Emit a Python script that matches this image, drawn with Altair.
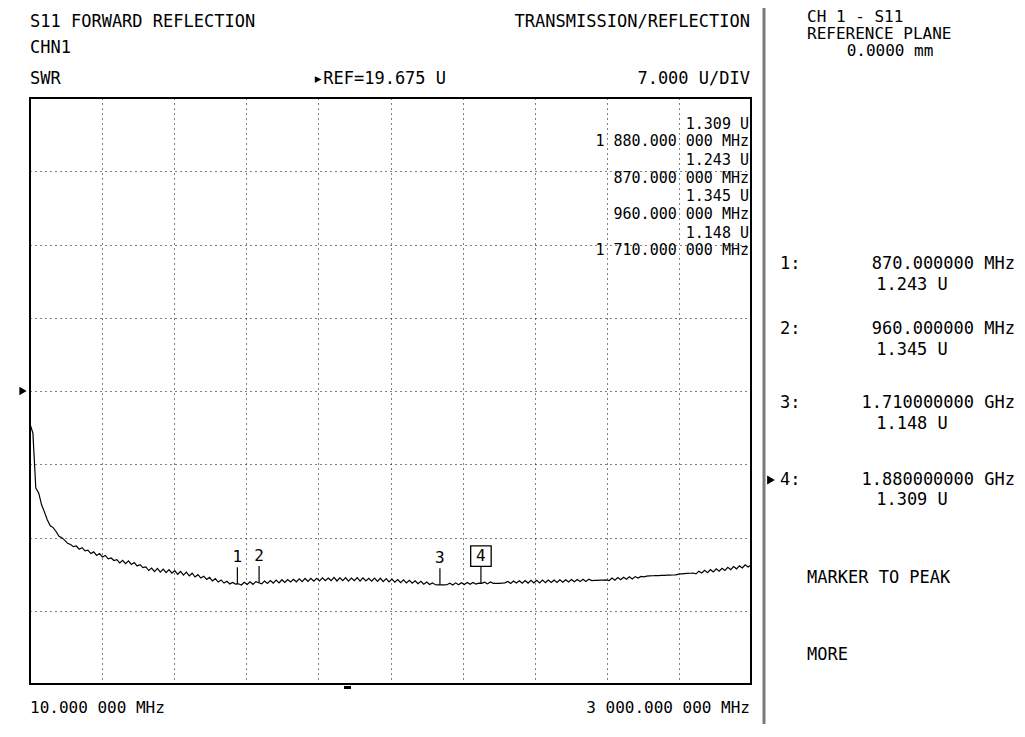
import altair as alt
import pandas as pd

FONT = "DejaVu Sans Mono"

# Sweep settings (instrument)
START_MHZ = 10.0
STOP_MHZ = 3000.0
REF_U = 19.675
U_PER_DIV = 7.0
N_XDIV = 10
N_YDIV = 8

# SWR trace (linear sweep, 250 points)
SWR = [
    16.52, 15.66, 10.41, 9.93, 8.80, 8.10, 7.35, 6.80, 6.62, 6.25,
    5.80, 5.66, 5.40, 5.12, 5.00, 4.80, 4.86, 4.56, 4.70, 4.40,
    4.46, 4.14, 4.30, 3.96, 4.14, 3.82, 3.96, 3.64, 3.72, 3.48,
    3.56, 3.24, 3.50, 3.18, 3.44, 3.10, 3.28, 2.96, 3.08, 2.80,
    2.86, 2.52, 2.76, 2.42, 2.72, 2.36, 2.66, 2.32, 2.60, 2.26,
    2.50, 2.16, 2.44, 2.08, 2.36, 2.00, 2.26, 1.90, 2.12, 1.80,
    1.98, 1.66, 1.86, 1.52, 1.74, 1.42, 1.62, 1.32, 1.50, 1.24,
    1.38, 1.22, 1.25, 1.14, 1.40, 1.18, 1.44, 1.20, 1.46, 1.345,
    1.24, 1.52, 1.28, 1.56, 1.32, 1.60, 1.34, 1.64, 1.38, 1.66,
    1.42, 1.68, 1.44, 1.72, 1.46, 1.76, 1.48, 1.78, 1.50, 1.78,
    1.52, 1.82, 1.54, 1.80, 1.56, 1.86, 1.52, 1.82, 1.56, 1.84,
    1.50, 1.80, 1.54, 1.84, 1.50, 1.82, 1.52, 1.78, 1.50, 1.80,
    1.48, 1.78, 1.46, 1.74, 1.44, 1.70, 1.40, 1.66, 1.36, 1.62,
    1.34, 1.58, 1.30, 1.54, 1.26, 1.48, 1.22, 1.42, 1.18, 1.34,
    1.16, 1.15, 1.148, 1.15, 1.16, 1.30, 1.14, 1.34, 1.16, 1.36,
    1.18, 1.38, 1.20, 1.38, 1.22, 1.309, 1.30, 1.40, 1.24, 1.42,
    1.30, 1.30, 1.30, 1.32, 1.34, 1.48, 1.28, 1.52, 1.32, 1.54,
    1.30, 1.56, 1.32, 1.58, 1.34, 1.58, 1.34, 1.60, 1.36, 1.60,
    1.38, 1.62, 1.38, 1.64, 1.40, 1.64, 1.42, 1.66, 1.44, 1.66,
    1.46, 1.68, 1.48, 1.70, 1.56, 1.58, 1.58, 1.60, 1.60, 1.62,
    1.56, 1.80, 1.60, 1.84, 1.64, 1.88, 1.68, 1.92, 1.72, 1.94,
    1.80, 1.96, 1.92, 1.98, 2.00, 2.02, 2.03, 2.04, 2.05, 2.06,
    2.07, 2.08, 2.09, 2.10, 2.18, 2.20, 2.22, 2.24, 2.26, 2.28,
    2.20, 2.46, 2.28, 2.54, 2.32, 2.60, 2.38, 2.68, 2.46, 2.74,
    2.52, 2.82, 2.60, 2.90, 2.68, 2.96, 2.76, 3.06, 2.86, 3.05,
]

# Markers
MARKER_ID = ["1", "2", "3", "4"]
MARKER_MHZ = [870.0, 960.0, 1710.0, 1880.0]
MARKER_U = [1.243, 1.345, 1.148, 1.309]
ACTIVE_MARKER = "4"

# Texts
HEADER = [
    ("S11 FORWARD REFLECTION", 30, 22, "left"),
    ("TRANSMISSION/REFLECTION", 750, 22, "right"),
    ("CHN1", 30, 48, "left"),
    ("SWR", 30, 79, "left"),
    ("\u25B8REF=19.675 U", 313, 79, "left"),
    ("7.000 U/DIV", 750, 79, "right"),
]
READOUT = [
    ("1.309 U", 124), ("1 880.000 000 MHz", 141),
    ("1.243 U", 160), ("870.000 000 MHz", 178),
    ("1.345 U", 196), ("960.000 000 MHz", 214),
    ("1.148 U", 233), ("1 710.000 000 MHz", 250),
]
FOOTER = [
    ("10.000 000 MHz", 30, 708, "left"),
    ("3 000.000 000 MHz", 750, 708, "right"),
]
PANEL_TOP = [
    ("CH 1 - S11", 807, 17, "left"),
    ("REFERENCE PLANE", 807, 34, "left"),
    ("0.0000 mm", 890, 51, "center"),
]
PANEL = [
    ("1:", 780, 264, "left"), ("870.000000 MHz", 1015, 264, "right"), ("1.243 U", 912, 285, "center"),
    ("2:", 780, 329, "left"), ("960.000000 MHz", 1015, 329, "right"), ("1.345 U", 912, 350, "center"),
    ("3:", 780, 403, "left"), ("1.710000000 GHz", 1015, 403, "right"), ("1.148 U", 912, 424, "center"),
    ("4:", 780, 480, "left"), ("1.880000000 GHz", 1015, 480, "right"), ("1.309 U", 912, 500, "center"),
    ("MARKER TO PEAK", 807, 578, "left"),
    ("MORE", 807, 655, "left"),
]

# Layout: plot frame top-left on the page
OX, OY = 30, 98
W, H = 721, 586

n = len(SWR)
freq = [START_MHZ + (STOP_MHZ - START_MHZ) * i / (n - 1) for i in range(n)]
trace_df = pd.DataFrame({"f": freq, "u": SWR})
mk_df = pd.DataFrame({"id": MARKER_ID, "f": MARKER_MHZ, "u": MARKER_U})

y_lo = REF_U - U_PER_DIV * N_YDIV / 2
y_hi = REF_U + U_PER_DIV * N_YDIV / 2
xstep = (STOP_MHZ - START_MHZ) / N_XDIV
xgrid = [START_MHZ + k * xstep for k in range(1, N_XDIV)]
ygrid = [y_lo + k * U_PER_DIV for k in range(1, N_YDIV)]

xs = alt.Scale(domain=[START_MHZ, STOP_MHZ], nice=False, zero=False)
ys = alt.Scale(domain=[y_lo, y_hi], nice=False, zero=False)
grid_common = dict(grid=True, gridDash=[1, 4], gridColor="black", gridOpacity=1,
                   gridWidth=1, labels=False, ticks=False, domain=False, title=None)

trace = alt.Chart(trace_df).mark_line(color="black", strokeWidth=1.2).encode(
    x=alt.X("f:Q", scale=xs, axis=alt.Axis(values=xgrid, **grid_common)),
    y=alt.Y("u:Q", scale=ys, axis=alt.Axis(values=ygrid, **grid_common)),
)

stems = alt.Chart(mk_df).transform_calculate(top="datum.u + 1.6").mark_rule(
    color="black", strokeWidth=1.2).encode(
    x=alt.X("f:Q"), y=alt.Y("u:Q"), y2="top:Q")

mk_labels = alt.Chart(mk_df).mark_text(
    font=FONT, fontSize=16, dy=-27, baseline="middle", align="center", color="black"
).encode(x="f:Q", y="u:Q", text="id:N")

mk_box = alt.Chart(mk_df).transform_filter(f"datum.id == '{ACTIVE_MARKER}'").mark_point(
    shape="square", size=420, filled=False, stroke="black", strokeWidth=1.3,
    opacity=1, yOffset=-27).encode(x="f:Q", y="u:Q")

ref_tri = alt.Chart(pd.DataFrame({"u": [REF_U]})).mark_point(
    shape="triangle-right", filled=True, size=70, color="black", opacity=1
).encode(x=alt.value(-7), y=alt.Y("u:Q"))

blank = alt.Data(values=[{}])


def txt(s, X, Y, align, size):
    return alt.Chart(blank).mark_text(
        text=s, align=align, baseline="middle", font=FONT, fontSize=size, color="black"
    ).encode(x=alt.value(X - OX), y=alt.value(Y - OY))


layers = [trace, stems, mk_box, mk_labels, ref_tri]
for s, X, Y, a in HEADER:
    layers.append(txt(s, X, Y, a, 17))
for s, Y in READOUT:
    layers.append(txt(s, 749, Y, "right", 15))
for s, X, Y, a in FOOTER:
    layers.append(txt(s, X, Y, a, 16))
for s, X, Y, a in PANEL_TOP:
    layers.append(txt(s, X, Y, a, 16))
for s, X, Y, a in PANEL:
    layers.append(txt(s, X, Y, a, 17))

sep = alt.Chart(blank).mark_rule(color="#7a7a7a", strokeWidth=3).encode(
    x=alt.value(764 - OX), y=alt.value(-OY), y2=alt.value(737 - OY))
blk = alt.Chart(blank).mark_rect(color="black").encode(
    x=alt.value(344 - OX), x2=alt.value(351 - OX), y=alt.value(686 - OY), y2=alt.value(689 - OY))
act_arrow = alt.Chart(blank).mark_point(
    shape="triangle-right", filled=True, size=80, color="black", opacity=1
).encode(x=alt.value(771 - OX), y=alt.value(480 - OY))
layers += [sep, blk, act_arrow]

chart = alt.layer(*layers).properties(
    width=W, height=H,
    autosize=alt.AutoSizeParams(type="none"),
    padding={"left": OX - 8, "top": OY - 8, "right": 1025 - 8 - OX - W, "bottom": 40},
    background="white",
).configure_view(stroke="black", strokeWidth=2)

chart.save("out.html", embed_options={"renderer": "svg", "actions": False})
